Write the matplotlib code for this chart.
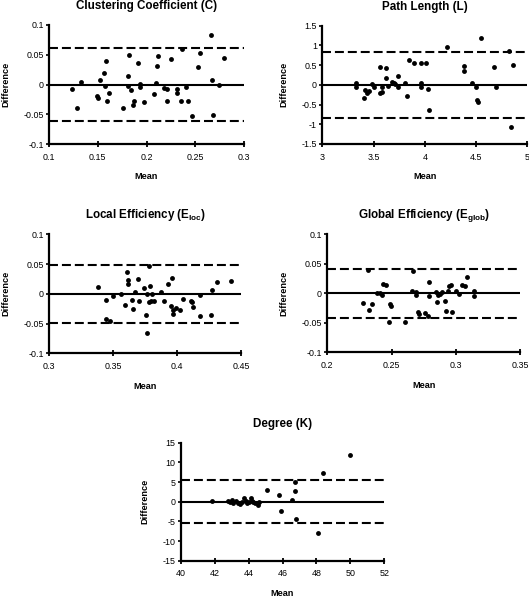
import matplotlib
matplotlib.use("Agg")
import matplotlib.pyplot as plt

plt.rcParams['font.family'] = ['Liberation Sans', 'DejaVu Sans']
plt.rcParams['mathtext.fontset'] = 'custom'
plt.rcParams['mathtext.rm'] = 'Liberation Sans'
plt.rcParams['mathtext.bf'] = 'Liberation Sans:bold'
plt.rcParams['axes.unicode_minus'] = False

# ---------------- data ----------------
cc_mean = [0.1232, 0.1290, 0.1328, 0.1491, 0.1502, 0.1522, 0.1567, 0.1573, 0.1587, 0.1590,
           0.1614, 0.1758, 0.1809, 0.1812, 0.1816, 0.1843, 0.1863, 0.1874, 0.1915, 0.1932,
           0.1935, 0.1976, 0.2078, 0.2106, 0.2102, 0.2119, 0.2177, 0.2212, 0.2215, 0.2253,
           0.2311, 0.2314, 0.2352, 0.2362, 0.2403, 0.2427, 0.2468, 0.2529, 0.2546, 0.2659,
           0.2672, 0.2686, 0.2741, 0.2799]
cc_diff = [-0.0076, -0.0395, 0.0042, -0.0193, -0.0221, 0.0076, 0.0193, -0.0025, 0.0401, -0.0272,
           -0.0143, -0.0401, -0.0025, 0.0143, 0.0501, -0.0098, -0.0339, -0.0283, 0.0356, 0.0014,
           -0.0048, -0.0294, -0.0160, 0.0305, 0.0025, 0.0479, -0.0053, -0.0283, -0.0076, 0.0434,
           -0.0076, -0.0137, -0.0272, 0.0591, -0.0036, -0.0272, -0.0535, 0.0289, 0.0535, 0.0826,
           0.0076, -0.0513, -0.0003, 0.0445]
cc_limits = [0.0615, -0.0610]

pl_mean = [3.332, 3.332, 3.404, 3.417, 3.439, 3.452, 3.482, 3.507, 3.566, 3.566,
           3.582, 3.582, 3.624, 3.624, 3.644, 3.683, 3.700, 3.712, 3.739, 3.739,
           3.804, 3.823, 3.843, 3.895, 3.963, 3.963, 3.963, 4.012, 4.034, 4.038,
           4.214, 4.383, 4.383, 4.463, 4.500, 4.506, 4.519, 4.548, 4.672, 4.690,
           4.821, 4.841, 4.863]
pl_diff = [0.056, -0.055, -0.342, -0.140, -0.200, -0.165, 0.030, -0.055, 0.444, -0.200,
           -0.173, -0.055, 0.426, 0.172, -0.030, 0.071, 0.056, 0.030, 0.233, -0.055,
           0.056, -0.290, 0.630, 0.563, 0.563, 0.056, -0.055, 0.563, -0.114, -0.647,
           0.951, 0.469, 0.350, 0.056, -0.055, -0.376, -0.436, 1.188, 0.461, -0.055,
           0.850, -1.078, 0.512]
pl_limits = [0.84, -0.83]

le_mean = [0.3383, 0.3448, 0.3445, 0.3474, 0.3500, 0.3565, 0.3596, 0.3609, 0.3617, 0.3620,
           0.3648, 0.3654, 0.3674, 0.3698, 0.3700, 0.3740, 0.3755, 0.3763, 0.3779, 0.3781,
           0.3786, 0.3802, 0.3799, 0.3820, 0.3766, 0.3875, 0.3898, 0.3932, 0.3951, 0.3961,
           0.3966, 0.3966, 0.3992, 0.4026, 0.4047, 0.4112, 0.4117, 0.4128, 0.4177, 0.4180,
           0.4263, 0.4271, 0.4313, 0.4422]
le_diff = [0.0115, -0.0109, -0.0420, -0.0450, -0.0031, 0.0003, -0.0188, 0.0361, 0.0227, 0.0165,
           -0.0109, -0.0260, 0.0031, 0.0244, -0.0126, 0.0104, -0.0361, -0.0003, -0.0132, 0.0462,
           0.0126, 0.0003, -0.0115, -0.0115, -0.0664, 0.0036, -0.0126, 0.0165, -0.0199, 0.0272,
           -0.0266, -0.0339, -0.0244, -0.0272, -0.0081, -0.0115, -0.0140, -0.0221, -0.0025, -0.0378,
           -0.0361, 0.0064, 0.0193, 0.0221]
le_limits = [0.049, -0.049]

ge_mean = [0.2275, 0.2316, 0.2324, 0.2350, 0.2386, 0.2412, 0.2427, 0.2435, 0.2456, 0.2490,
           0.2495, 0.2484, 0.2601, 0.2668, 0.2663, 0.2694, 0.2689, 0.2705, 0.2717, 0.2759,
           0.2785, 0.2793, 0.2793, 0.2850, 0.2855, 0.2865, 0.2881, 0.2894, 0.2917, 0.2925,
           0.2943, 0.2951, 0.2961, 0.2974, 0.3000, 0.3026, 0.3049, 0.3073, 0.3086, 0.3142,
           0.3142]
ge_diff = [-0.0163, 0.0402, -0.0276, -0.0186, 0.0012, 0.0012, -0.0022, 0.0160, 0.0136, -0.0180,
           -0.0220, -0.0480, -0.0480, 0.0385, 0.0040, 0.0024, -0.0027, -0.0310, -0.0350, -0.0327,
           -0.0378, 0.0198, -0.0050, 0.0024, -0.0140, -0.0034, -0.0017, 0.0024, -0.0124, -0.0293,
           0.0046, 0.0130, 0.0147, -0.0310, 0.0040, -0.0017, 0.0147, 0.0119, 0.0278, 0.0040,
           -0.0044]
ge_limits = [0.042, -0.042]

dg_mean = [41.83, 42.76, 42.90, 43.00, 43.09, 43.25, 43.39, 43.49, 43.59, 43.74,
           43.82, 43.88, 44.02, 44.14, 44.18, 44.27, 44.37, 44.53, 44.61, 45.07,
           45.77, 45.89, 46.54, 46.76, 46.76, 46.78, 48.37, 48.11, 49.99]
dg_diff = [0.2, 0.3, -0.1, 0.4, -0.3, 0.1, -0.3, -0.7, -0.1, 1.0,
           0.25, -0.3, 0.0, 1.0, 0.25, -0.1, -0.4, -0.9, -0.1, 3.0,
           1.6, -2.3, 0.55, 5.0, 2.7, -4.5, 7.2, -7.9, 11.8]
dg_limits = [5.4, -5.3]

titles = ['Clustering Coefficient (C)', 'Path Length (L)',
          r'Local Efficiency (E$_{\mathbf{loc}}$)', r'Global Efficiency (E$_{\mathbf{glob}}$)',
          'Degree (K)']
x_label = 'Mean'
y_label = 'Difference'

cc_xticks = [0.1, 0.15, 0.2, 0.25, 0.3]
cc_xlabels = ['0.1', '0.15', '0.2', '0.25', '0.3']
pl_xticks = [3, 3.5, 4, 4.5, 5]
pl_xlabels = ['3', '3.5', '4', '4.5', '5']
le_xticks = [0.3, 0.35, 0.4, 0.45]
le_xlabels = ['0.3', '0.35', '0.4', '0.45']
ge_xticks = [0.2, 0.25, 0.3, 0.35]
ge_xlabels = ['0.2', '0.25', '0.3', '0.35']
dg_xticks = [40, 42, 44, 46, 48, 50, 52]
dg_xlabels = ['40', '42', '44', '46', '48', '50', '52']

small_yticks = [-0.1, -0.05, 0, 0.05, 0.1]
small_ylabels = ['-0.1', '-0.05', '0', '0.05', '0.1']
pl_yticks = [-1.5, -1, -0.5, 0, 0.5, 1, 1.5]
pl_ylabels = ['-1.5', '-1', '-0.5', '0', '0.5', '1', '1.5']
dg_yticks = [-15, -10, -5, 0, 5, 10, 15]
dg_ylabels = ['-15', '-10', '-5', '0', '5', '10', '15']

# ---------------- figure ----------------
W, H = 529, 598
fig = plt.figure(figsize=(W / 100, H / 100), dpi=100)
PX = 72 / 100  # points per pixel


def rect(left, right, top, bottom):
    return [left / W, (H - bottom) / H, (right - left) / W, (bottom - top) / H]


def panel(r, mean, diff, limits, xticks, xlabels, yticks, ylabels, title):
    ax = fig.add_axes(r)
    ax.set_xlim(xticks[0], xticks[-1])
    ax.set_ylim(yticks[0], yticks[-1])
    ax.axhline(0, color='black', lw=1.5, zorder=2)
    for v in limits:
        ax.axhline(v, color='black', lw=1.5, linestyle=(0, (4.3, 1.9)), zorder=2)
    ax.plot(mean, diff, 'o', color='black', markersize=3.5, markeredgewidth=0, zorder=3,
            clip_on=False)
    for s in ['top', 'right']:
        ax.spines[s].set_visible(False)
    for s in ['left', 'bottom']:
        ax.spines[s].set_linewidth(1.6)
    ax.set_xticks(xticks)
    ax.set_xticklabels(xlabels)
    ax.set_yticks(yticks)
    ax.set_yticklabels(ylabels)
    ax.tick_params(axis='x', direction='inout', length=4.5, width=1.3, pad=4.0, labelsize=6.4)
    ax.tick_params(axis='y', direction='out', length=2.5, width=1.2, pad=1.3, labelsize=6.4)
    ax.annotate(title, xy=(0.5, 1), xycoords='axes fraction', xytext=(0, 16 * PX),
                textcoords='offset points', ha='center', va='baseline',
                fontsize=8.4, fontweight='bold')
    ax.annotate(x_label, xy=(0.5, 0), xycoords='axes fraction', xytext=(0, -33 * PX),
                textcoords='offset points', ha='center', va='center',
                fontsize=6.6, fontweight='bold')
    ax.set_ylabel(y_label, fontsize=6.6, fontweight='bold', labelpad=9.5)
    return ax


panel(rect(49, 244, 25, 144), cc_mean, cc_diff, cc_limits,
      cc_xticks, cc_xlabels, small_yticks, small_ylabels, titles[0])
panel(rect(322.3, 527.3, 25.7, 144), pl_mean, pl_diff, pl_limits,
      pl_xticks, pl_xlabels, pl_yticks, pl_ylabels, titles[1])
panel(rect(49, 241, 234.3, 353.3), le_mean, le_diff, le_limits,
      le_xticks, le_xlabels, small_yticks, small_ylabels, titles[2])
panel(rect(327.3, 520, 234.3, 352.3), ge_mean, ge_diff, ge_limits,
      ge_xticks, ge_xlabels, small_yticks, small_ylabels, titles[3])
panel(rect(180.7, 384.3, 442.7, 560.7), dg_mean, dg_diff, dg_limits,
      dg_xticks, dg_xlabels, dg_yticks, dg_ylabels, titles[4])

fig.savefig('out.png', dpi=100)
